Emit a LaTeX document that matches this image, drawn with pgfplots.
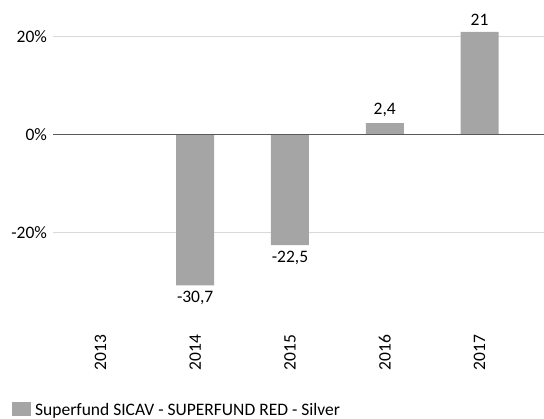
\documentclass[border=0pt]{standalone}
\usepackage{pgfplots}
\pgfplotsset{compat=1.18}
\usepackage{fontspec}
\setmainfont{Carlito}
\definecolor{barc}{HTML}{A5A5A5}
\definecolor{gridc}{HTML}{D9D9D9}
\definecolor{zeroc}{HTML}{595959}
\begin{document}
\fontsize{17.5}{20}\selectfont
\begin{tikzpicture}
\begin{axis}[
  scale only axis,
  width=491pt, height=327pt,
  xmin=-0.5, xmax=4.68,
  ymin=-39.2, ymax=27.5,
  axis line style={draw=none},
  ytick={-20,0,20},
  yticklabels={-20\%,0\%,20\%},
  ymajorgrids,
  grid style={gridc, line width=0.8pt},
  major tick length=0pt,
  xtick={0,1,2,3,4},
  xticklabels={2013,2014,2015,2016,2017},
  x tick label style={rotate=90, anchor=east, xshift=-2pt},
  ticklabel style={font=\fontsize{17.5}{20}\selectfont},
  /pgf/number format/assume math mode=true,
  /pgf/number format/use comma,
  /pgf/number format/fixed,
  /pgf/number format/precision=1,
  ybar, bar width=38pt,
  nodes near coords,
  nodes near coords align={vertical},
  every node near coord/.append style={font=\fontsize{17.5}{20}\selectfont, black},
  legend style={at={(-0.0835,-0.256)}, anchor=west, draw=none, fill=none, inner sep=0pt,
    font=\fontsize{17.5}{20}\selectfont},
  legend image code/.code={\fill[barc] (0pt,-5pt) rectangle (19pt,9pt);},
  clip=false,
]
\addplot[fill=barc, draw=none] coordinates {(1,-30.7) (2,-22.5) (3,2.4) (4,21)};
\addlegendentry{\hspace{2pt}Superfund SICAV - SUPERFUND RED - Silver}
\draw[zeroc, line width=1pt] (axis cs:-0.5,0) -- (axis cs:4.68,0);
\end{axis}
\pgfresetboundingbox
\path ([shift={(-53pt,-92pt)}]current axis.south west) rectangle (current axis.north east);
\end{tikzpicture}
\end{document}
